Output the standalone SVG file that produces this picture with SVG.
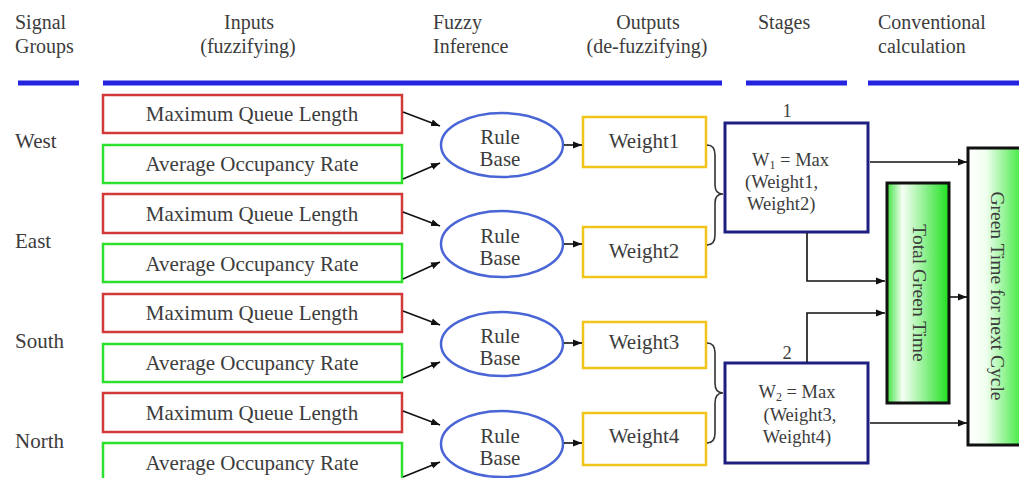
<svg xmlns="http://www.w3.org/2000/svg" width="1019" height="478" viewBox="0 0 1019 478">
<style>
text{font-family:"Liberation Serif","Times New Roman",serif;fill:#3c3c3c;font-size:21px}
.hd{font-size:20px}
.c{text-anchor:middle}
.st{font-size:18.5px}
.red{fill:#fff;stroke:#d23a3a;stroke-width:2.5}
.grn{fill:#fff;stroke:#2ee02e;stroke-width:2.5}
.yel{fill:#fff;stroke:#f0c419;stroke-width:2.5}
.ell{fill:#fff;stroke:#4a66d6;stroke-width:2.5}
.stg{fill:#fff;stroke:#1e1e80;stroke-width:3}
.bar{stroke:#2424e0;stroke-width:5}
.ln{fill:none;stroke:#111;stroke-width:1.6}
.br{fill:none;stroke:#333;stroke-width:1.6}
.vt{font-size:19.5px}
</style>
<defs>
<marker id="ah" markerUnits="userSpaceOnUse" markerWidth="10" markerHeight="8" refX="9" refY="4" orient="auto">
<path d="M0,0.5 L9,4 L0,7.5 z" fill="#111"/>
</marker>
<linearGradient id="g1" x1="0" y1="0" x2="1" y2="0">
<stop offset="0" stop-color="#3ee23e"/>
<stop offset="0.25" stop-color="#f6fff6"/>
<stop offset="1" stop-color="#1fe01f"/>
</linearGradient>
<linearGradient id="g2" x1="0" y1="0" x2="1" y2="0">
<stop offset="0" stop-color="#ffffff"/>
<stop offset="0.3" stop-color="#f0fff0"/>
<stop offset="1" stop-color="#22e622"/>
</linearGradient>
</defs>

<g id="headers">
<text class="hd" x="15" y="29">Signal</text>
<text class="hd" x="15" y="53">Groups</text>
<text class="hd c" x="249" y="29">Inputs</text>
<text class="hd c" x="248" y="53">(fuzzifying)</text>
<text class="hd" x="433" y="29">Fuzzy</text>
<text class="hd" x="433" y="53">Inference</text>
<text class="hd c" x="648" y="29">Outputs</text>
<text class="hd c" x="647" y="53">(de-fuzzifying)</text>
<text class="hd" x="758" y="29">Stages</text>
<text class="hd" x="878" y="29">Conventional</text>
<text class="hd" x="878" y="53">calculation</text>
<line class="bar" x1="18" y1="83" x2="79" y2="83"/>
<line class="bar" x1="103" y1="83" x2="722" y2="83"/>
<line class="bar" x1="746" y1="83" x2="847" y2="83"/>
<line class="bar" x1="868" y1="83" x2="1019" y2="83"/>
</g>

<g id="groups">
<text x="15" y="148">West</text>
<text x="15" y="248">East</text>
<text x="15" y="348">South</text>
<text x="15" y="448">North</text>
</g>

<g id="in-w-mql"><rect class="red" x="103" y="95" width="299" height="38"/><text class="c" x="252" y="121">Maximum Queue Length</text></g>
<g id="in-w-aor"><rect class="grn" x="103" y="145" width="299" height="38"/><text class="c" x="252" y="171">Average Occupancy Rate</text></g>
<g id="in-e-mql"><rect class="red" x="103" y="194" width="299" height="39"/><text class="c" x="252" y="221">Maximum Queue Length</text></g>
<g id="in-e-aor"><rect class="grn" x="103" y="244" width="299" height="38"/><text class="c" x="252" y="271">Average Occupancy Rate</text></g>
<g id="in-s-mql"><rect class="red" x="103" y="294" width="299" height="38"/><text class="c" x="252" y="320">Maximum Queue Length</text></g>
<g id="in-s-aor"><rect class="grn" x="103" y="344" width="299" height="38"/><text class="c" x="252" y="370">Average Occupancy Rate</text></g>
<g id="in-n-mql"><rect class="red" x="103" y="393" width="299" height="39"/><text class="c" x="252" y="420">Maximum Queue Length</text></g>
<g id="in-n-aor"><rect class="grn" x="103" y="443" width="299" height="38"/><text class="c" x="252" y="470">Average Occupancy Rate</text></g>

<g id="rb1"><ellipse class="ell" cx="502" cy="145" rx="61" ry="32"/><text class="c" x="500" y="144">Rule</text><text class="c" x="500" y="166">Base</text></g>
<g id="rb2"><ellipse class="ell" cx="502" cy="244" rx="61" ry="33"/><text class="c" x="500" y="243">Rule</text><text class="c" x="500" y="265">Base</text></g>
<g id="rb3"><ellipse class="ell" cx="502" cy="344" rx="61" ry="32"/><text class="c" x="500" y="343">Rule</text><text class="c" x="500" y="365">Base</text></g>
<g id="rb4"><ellipse class="ell" cx="502" cy="444" rx="61" ry="33"/><text class="c" x="500" y="443">Rule</text><text class="c" x="500" y="465">Base</text></g>

<g id="w1"><rect class="yel" x="583" y="117" width="123" height="50"/><text class="c" x="644" y="148">Weight1</text></g>
<g id="w2"><rect class="yel" x="583" y="227" width="123" height="50"/><text class="c" x="644" y="258">Weight2</text></g>
<g id="w3"><rect class="yel" x="583" y="322" width="123" height="46"/><text class="c" x="644" y="349">Weight3</text></g>
<g id="w4"><rect class="yel" x="583" y="413" width="123" height="52"/><text class="c" x="644" y="443">Weight4</text></g>

<g id="stage1">
<text class="c st" x="787" y="117">1</text>
<rect class="stg" x="725" y="123" width="143" height="109"/>
<text class="st" x="752" y="166">W<tspan font-size="12" dy="3">1</tspan><tspan dy="-3"> = Max</tspan></text>
<text class="st" x="745" y="188">(Weight1,</text>
<text class="st" x="747" y="210">Weight2)</text>
</g>
<g id="stage2">
<text class="c st" x="787" y="359">2</text>
<rect class="stg" x="725" y="363" width="143" height="100"/>
<text class="c st" x="797" y="398">W<tspan font-size="12" dy="3">2</tspan><tspan dy="-3"> = Max</tspan></text>
<text class="c st" x="800" y="421">(Weight3,</text>
<text class="c st" x="797" y="443">Weight4)</text>
</g>

<g id="total-green">
<rect x="887" y="183" width="62" height="220" fill="url(#g1)" stroke="#111" stroke-width="3"/>
<text class="c vt" transform="translate(913 293) rotate(90)">Total Green Time</text>
</g>
<g id="green-next">
<rect x="968" y="148" width="60" height="297" fill="url(#g2)" stroke="#111" stroke-width="3"/>
<text class="c vt" transform="translate(991 296) rotate(90)">Green Time for next Cycle</text>
</g>

<g id="connectors">
<line class="ln" x1="403" y1="112" x2="440" y2="126" marker-end="url(#ah)"/>
<line class="ln" x1="403" y1="179" x2="440" y2="163" marker-end="url(#ah)"/>
<line class="ln" x1="403" y1="212" x2="440" y2="226" marker-end="url(#ah)"/>
<line class="ln" x1="403" y1="279" x2="440" y2="262" marker-end="url(#ah)"/>
<line class="ln" x1="403" y1="311" x2="440" y2="325" marker-end="url(#ah)"/>
<line class="ln" x1="403" y1="378" x2="440" y2="362" marker-end="url(#ah)"/>
<line class="ln" x1="403" y1="411" x2="440" y2="425" marker-end="url(#ah)"/>
<line class="ln" x1="403" y1="477" x2="440" y2="462" marker-end="url(#ah)"/>
<line class="ln" x1="564" y1="145" x2="582" y2="145" marker-end="url(#ah)"/>
<line class="ln" x1="564" y1="244" x2="582" y2="244" marker-end="url(#ah)"/>
<line class="ln" x1="564" y1="343" x2="582" y2="343" marker-end="url(#ah)"/>
<line class="ln" x1="564" y1="443" x2="582" y2="443" marker-end="url(#ah)"/>
<path class="br" d="M707,145 Q715,145 715,155 L715,185 Q715,194 723,194 Q715,194 715,203 L715,235 Q715,245 707,245"/>
<path class="br" d="M707,343 Q715,343 715,353 L715,383 Q715,393 723,393 Q715,393 715,403 L715,433 Q715,443 707,443"/>
<line class="ln" x1="870" y1="162" x2="967" y2="162" marker-end="url(#ah)"/>
<polyline class="ln" points="807,233 807,281 885,281" marker-end="url(#ah)"/>
<polyline class="ln" points="807,362 807,313 885,313" marker-end="url(#ah)"/>
<line class="ln" x1="870" y1="423" x2="967" y2="423" marker-end="url(#ah)"/>
<line class="ln" x1="950" y1="297" x2="967" y2="297" marker-end="url(#ah)"/>
</g>
</svg>
